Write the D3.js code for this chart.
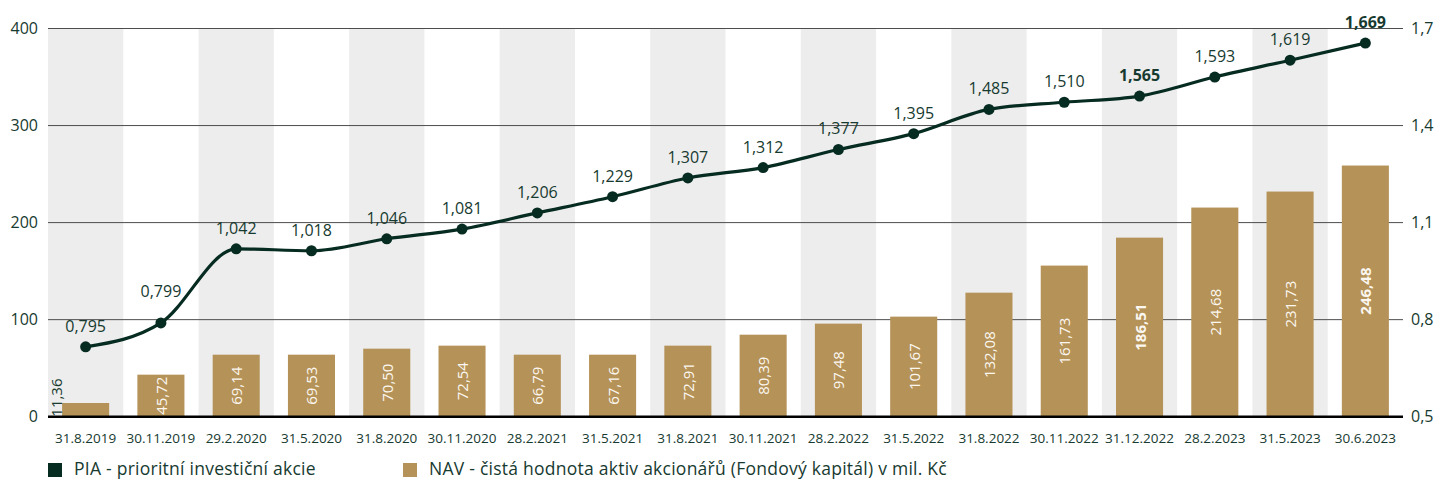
<!DOCTYPE html>
<html>
<head>
<meta charset="utf-8">
<script src="https://cdn.jsdelivr.net/npm/d3@7"></script>
<style>
  html, body { margin: 0; padding: 0; background: #ffffff; }
  svg { display: block; font-family: "Open Sans", "DejaVu Sans", sans-serif; }
</style>
</head>
<body>
<svg id="chart" width="1437" height="480"></svg>
<script>
const categories = ["31.8.2019","30.11.2019","29.2.2020","31.5.2020","31.8.2020","30.11.2020","28.2.2021","31.5.2021","31.8.2021","30.11.2021","28.2.2022","31.5.2022","31.8.2022","30.11.2022","31.12.2022","28.2.2023","31.5.2023","30.6.2023"];
const navValues = [14.1, 43.3, 63.9, 63.9, 70.1, 73.2, 63.9, 63.9, 73.2, 84.5, 95.9, 103.1, 127.8, 155.7, 184.5, 215.5, 232.0, 258.8];
const navLabels = ["11,36","45,72","69,14","69,53","70,50","72,54","66,79","67,16","72,91","80,39","97,48","101,67","132,08","161,73","186,51","214,68","231,73","246,48"];
const piaValues = [0.716, 0.790, 1.019, 1.013, 1.050, 1.080, 1.130, 1.180, 1.238, 1.270, 1.326, 1.375, 1.450, 1.472, 1.491, 1.550, 1.602, 1.655];
const piaLabels = ["0,795","0,799","1,042","1,018","1,046","1,081","1,206","1,229","1,307","1,312","1,377","1,395","1,485","1,510","1,565","1,593","1,619","1,669"];
const boldPoints = ["31.12.2022","30.6.2023"];
const leftTicks = [0, 100, 200, 300, 400];
const rightTicks = [0.5, 0.8, 1.1, 1.4, 1.7];
const legendLabels = ["PIA - prioritní investiční akcie", "NAV - čistá hodnota aktiv akcionářů (Fondový kapitál) v mil. Kč"];

const C = {
  line: "#062b21",
  bar: "#b59257",
  band: "#ededed",
  grid: "#4d4d4d",
  text: "#173a30",
  barText: "#fbf7f0"
};

const svg = d3.select("#chart");
const L = 48, R = 1403, T = 28.5, B = 416.7;

const x = d3.scaleBand().domain(categories).range([L, R]).paddingInner(0).paddingOuter(0);
const yL = d3.scaleLinear().domain([0, 400]).range([B, T]);
const yR = d3.scaleLinear().domain([0.5, 1.7]).range([B, T]);
const bw = x.bandwidth();

// alternating background bands
svg.append("g").selectAll("rect")
  .data(categories.filter((d, i) => i % 2 === 0))
  .join("rect")
  .attr("x", d => x(d)).attr("y", T)
  .attr("width", bw).attr("height", B - T)
  .attr("fill", C.band);

// gridlines
svg.append("g").selectAll("line")
  .data(leftTicks.filter(t => t !== 0))
  .join("line")
  .attr("x1", L).attr("x2", R)
  .attr("y1", d => yL(d)).attr("y2", d => yL(d))
  .attr("stroke", C.grid).attr("stroke-width", 1);

// bars
const barW = bw * 0.625;
svg.append("g").selectAll("rect")
  .data(categories)
  .join("rect")
  .attr("x", d => x(d) + (bw - barW) / 2)
  .attr("y", (d, i) => yL(navValues[i]))
  .attr("width", barW)
  .attr("height", (d, i) => B - yL(navValues[i]))
  .attr("fill", C.bar);

// baseline
svg.append("line")
  .attr("x1", L).attr("x2", R).attr("y1", B).attr("y2", B)
  .attr("stroke", "#000").attr("stroke-width", 2.5);

// bar labels
const barLabelG = svg.append("g");
categories.forEach((c, i) => {
  const h = B - yL(navValues[i]);
  const t = barLabelG.append("text")
    .attr("text-anchor", "middle")
    .attr("dominant-baseline", "central")
    .attr("font-size", 15)
    .attr("font-weight", boldPoints.includes(c) ? 700 : 400)
    .text(navLabels[i]);
  const len = t.node().getComputedTextLength();
  const fits = len <= h;
  const cx = fits ? x(c) + bw / 2 : x(c) + 8;
  const cy = fits ? (yL(navValues[i]) + B) / 2 : B;
  t.attr("transform", `translate(${cx},${cy}) rotate(-90)`)
    .attr("text-anchor", fits ? "middle" : "start")
    .attr("fill", fits ? C.barText : C.text);
});

// line
const line = d3.line()
  .x((d, i) => x(categories[i]) + bw / 2)
  .y(d => yR(d))
  .curve(d3.curveMonotoneX);
svg.append("path")
  .datum(piaValues)
  .attr("d", line)
  .attr("fill", "none")
  .attr("stroke", C.line)
  .attr("stroke-width", 3.2);

svg.append("g").selectAll("circle")
  .data(piaValues)
  .join("circle")
  .attr("cx", (d, i) => x(categories[i]) + bw / 2)
  .attr("cy", d => yR(d))
  .attr("r", 5.5)
  .attr("fill", C.line);

// point labels
svg.append("g").selectAll("text")
  .data(piaValues)
  .join("text")
  .attr("x", (d, i) => x(categories[i]) + bw / 2)
  .attr("y", (d, i) => {
    const next = piaValues[i + 1];
    const steep = next !== undefined && (yR(d) - yR(next)) > 50;
    return yR(d) - (steep ? 32 : 21);
  })
  .attr("text-anchor", "middle")
  .attr("dominant-baseline", "central")
  .attr("font-size", 16)
  .attr("font-weight", (d, i) => boldPoints.includes(categories[i]) ? 700 : 400)
  .attr("fill", C.text)
  .text((d, i) => piaLabels[i]);

// axes
const axL = svg.append("g").attr("transform", `translate(${L},0)`)
  .call(d3.axisLeft(yL).tickValues(leftTicks).tickSize(0).tickPadding(10));
const axR = svg.append("g").attr("transform", `translate(${R},0)`)
  .call(d3.axisRight(yR).tickValues(rightTicks).tickSize(0).tickPadding(8)
    .tickFormat(d => d3.format(".1f")(d).replace(".", ",")));
const axB = svg.append("g").attr("transform", `translate(0,${B})`)
  .call(d3.axisBottom(x).tickSize(0).tickPadding(16.5));
[axL, axR].forEach(a => a.selectAll("text").attr("font-size", 16).attr("fill", C.text).attr("font-family", "Open Sans"));
axB.selectAll("text").attr("font-size", 13.5).attr("fill", C.text).attr("font-family", "Open Sans");
[axL, axR, axB].forEach(a => a.select(".domain").remove());

// legend
const legendColors = [C.line, C.bar];
const legendX = [48, 403];
const lg = svg.append("g");
legendLabels.forEach((lab, i) => {
  lg.append("rect").attr("x", legendX[i]).attr("y", 463).attr("width", 14).attr("height", 14).attr("fill", legendColors[i]);
  lg.append("text").attr("x", legendX[i] + 26).attr("y", 468)
    .attr("dominant-baseline", "central")
    .attr("font-size", 17.5).attr("letter-spacing", 0.25).attr("fill", C.text)
    .text(lab);
});
</script>
</body>
</html>
